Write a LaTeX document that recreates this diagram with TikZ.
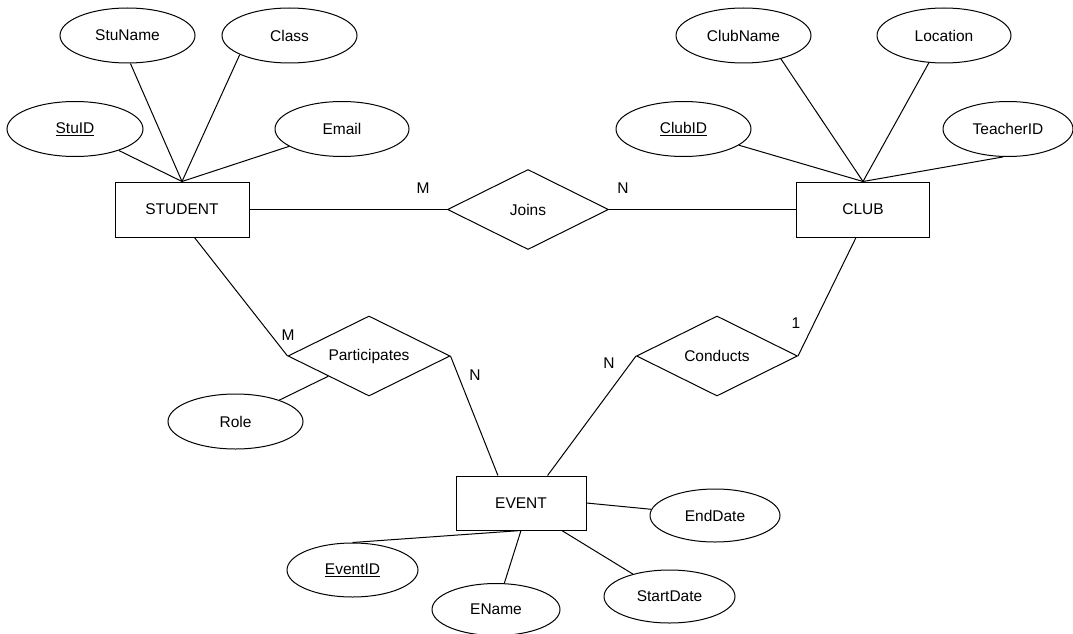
\documentclass[tikz,border=0pt]{standalone}
\usepackage{fontspec}
\setmainfont{Liberation Sans}
\usetikzlibrary{shapes.geometric}
\begin{document}
\begin{tikzpicture}[x=1pt,y=-1pt,
  font=\fontsize{15.5}{18}\selectfont,
  line width=1pt,
  attr/.style={draw, ellipse, minimum width=135pt, minimum height=55pt, inner sep=0pt},
  ent/.style={draw, rectangle, minimum width=134pt, minimum height=55pt, inner sep=0pt},
  rel/.style={draw, diamond, aspect=2, minimum width=161pt, minimum height=80pt, inner sep=0pt},
  card/.style={inner sep=0pt}]
\useasboundingbox (0,0) rectangle (1073,634);

% entities
\node[ent] (student) at (182,209.5) {STUDENT};
\node[ent, minimum width=133pt] (club) at (863,209.5) {CLUB};
\node[ent, minimum width=130pt, minimum height=54pt] (event) at (521,503) {EVENT};

% relationships
\node[rel] (joins) at (528,209.5) {Joins};
\node[rel, minimum width=162pt] (part) at (369,356) {Participates};
\node[rel] (cond) at (717,356) {Conducts};

% attributes
\node[attr] (stuname) at (127.5,35.5) {StuName};
\node[attr] (class) at (289.5,35.5) {Class};
\node[attr, minimum width=136pt] (stuid) at (75,129) {\underline{StuID}};
\node[attr, minimum width=134pt] (email) at (342,129) {Email};
\node[attr] (clubname) at (743.5,35.5) {ClubName};
\node[attr, minimum width=134pt] (location) at (944,35.5) {Location};
\node[attr] (clubid) at (683.5,129) {\underline{ClubID}};
\node[attr, minimum width=130pt] (teacher) at (1008,129) {TeacherID};
\node[attr] (role) at (235.5,421.5) {Role};
\node[attr, minimum width=131pt, minimum height=54pt] (eventid) at (352.5,570) {\underline{EventID}};
\node[attr, minimum width=128pt, minimum height=52pt] (ename) at (496,609.5) {EName};
\node[attr, minimum width=131pt, minimum height=53pt] (startdate) at (669.5,596.5) {StartDate};
\node[attr, minimum width=130pt, minimum height=53pt] (enddate) at (715,515.5) {EndDate};

% attribute connectors
\draw (stuname.-84) -- (student.north);
\draw (class.201) -- (student.north);
\draw (stuid) -- (student.north);
\draw (email) -- (student.north);
\draw (clubname.-32) -- (club.north);
\draw (location) -- (club.north);
\draw (clubid) -- (club.north);
\draw (teacher.-100) -- (club.north);
\draw (role) -- (part.south west);
\draw (eventid.north) -- (event.south);
\draw (ename) -- (event.south);
\draw (startdate) -- (event.-34);
\draw (enddate) -- (event.east);

% relationship connectors
\draw (student.east) -- (joins.west);
\draw (joins.east) -- (club.west);
\draw (student.-66) -- (part.west);
\draw (part.east) -- (event.130);
\draw (cond.west) -- (event.46);
\draw (cond.east) -- (club.-104);

% cardinalities
\node[card] (c1) at (423,188) {M};
\node[card] (c2) at (623,188) {N};
\node[card] (c3) at (288,335) {M};
\node[card] (c4) at (475,375) {N};
\node[card] (c5) at (609,363) {N};
\node[card] (c6) at (796,323) {1};
\end{tikzpicture}
\end{document}
